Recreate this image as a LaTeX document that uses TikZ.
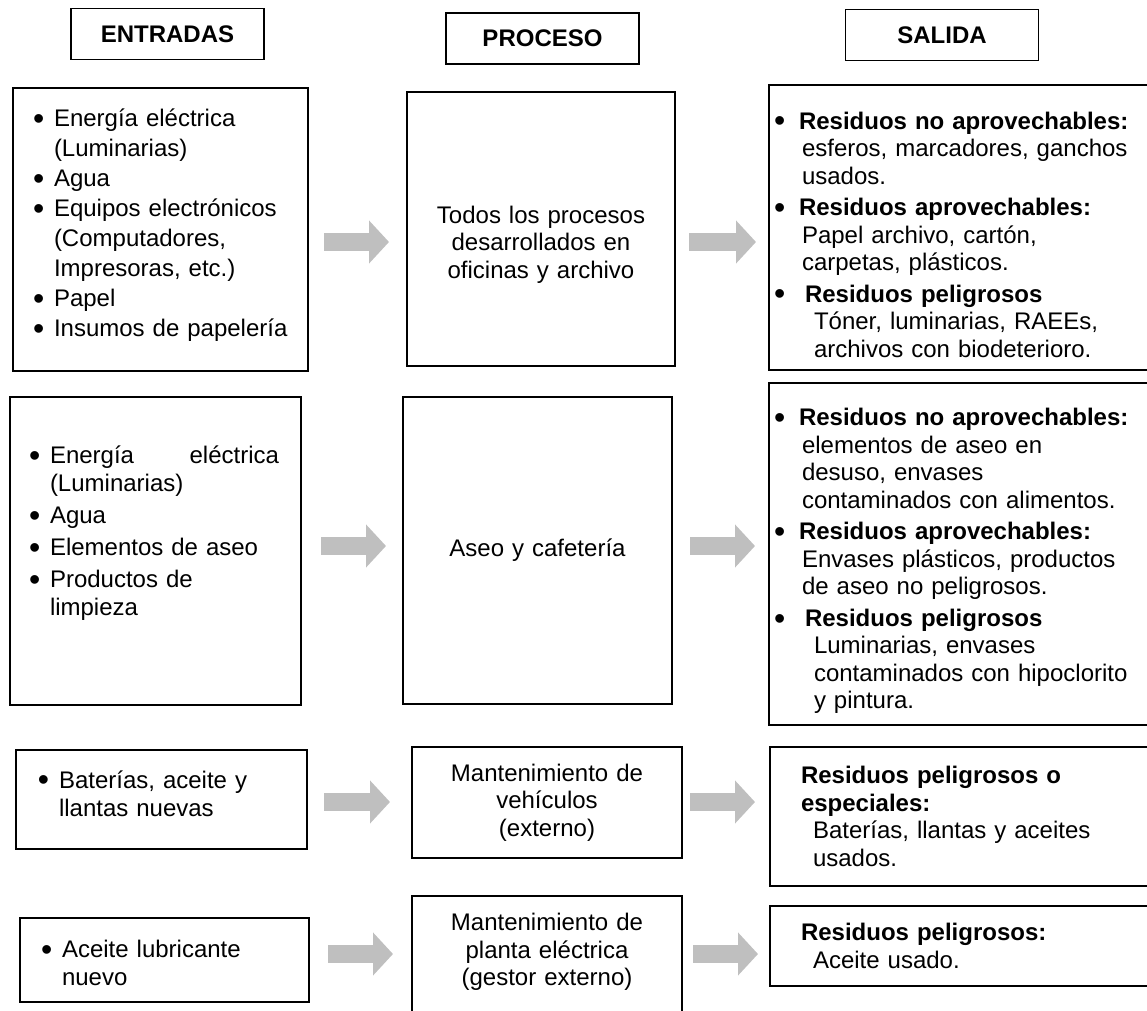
\documentclass[tikz,border=0pt]{standalone}
\usepackage{fontspec}
\setmainfont{Liberation Sans}
\usetikzlibrary{arrows.meta}
\definecolor{grisflecha}{RGB}{191,191,191}
\newlength{\sangria}
\setlength{\sangria}{10.5pt}
\newcommand{\bolita}{\raisebox{-1.4pt}{\fontsize{16pt}{16pt}\selectfont•}}
\newcommand{\punto}{\par\noindent\makebox[\sangria][l]{\bolita}}
\newcommand{\sigue}{\\\hspace*{\sangria}}
\newcommand{\vineta}[2][12.5pt]{\par\noindent\makebox[#1][l]{\bolita}\textbf{#2}}
\newcommand{\renglon}[2][14pt]{\\\hspace*{#1}#2}
\newcommand{\fondo}[1]{\rule[-#1]{0pt}{#1}}
\tikzset{
  caja/.style={draw, line width=1pt, inner ysep=0pt},
  titulo/.style={draw, line width=0.75pt, font=\fontsize{12pt}{14pt}\selectfont\bfseries, minimum width=96.5pt, minimum height=25.5pt},
  lista/.style={caja, align=left, font=\fontsize{12pt}{15pt}\selectfont},
  centro/.style={caja, align=center, font=\fontsize{12pt}{13.75pt}\selectfont},
  salida/.style={caja, align=left, inner xsep=2.5pt, text width=195pt, font=\fontsize{12pt}{13.75pt}\selectfont, execute at begin node=\setlength{\parskip}{2pt}},
  flecha/.style={draw=grisflecha, line width=9pt, -{Triangle[length=10pt,width=21pt]}}
}

\begin{document}
\begin{tikzpicture}[x=0.5pt, y=-0.5pt]

	\useasboundingbox (0,0) rectangle (1147,1011);
	\clip (0,0) rectangle (1147,1011);

	% encabezados
	\node[titulo] (tent) at (167.5,34) {ENTRADAS};
	\node[titulo] (tpro) at (542.5,38.5) {PROCESO};
	\node[titulo] (tsal) at (942,35) {SALIDA};

	% oficinas y archivo
	\node[lista, inner xsep=10pt, text width=127.5pt, minimum height=141.5pt] (ent1) at (160.5,229.5) {%
		\punto Energía eléctrica\sigue(Luminarias)
		\punto Agua
		\punto Equipos electrónicos\sigue(Computadores,\sigue Impresoras, etc.)
		\punto Papel
		\punto Insumos de papelería\fondo{12.5pt}};
	\node[centro, text width=120pt, minimum width=134pt, minimum height=137pt] (pro1) at (541,229) {%
		\rule{0pt}{24pt}Todos los procesos\\desarrollados en\\oficinas y archivo};
	\node[salida, minimum height=142.5pt] (sal1) at (969,227.5) {%
		\vineta{Residuos no aprovechables:}\renglon{esferos, marcadores, ganchos}\renglon{usados.}
		\vineta{Residuos aprovechables:}\renglon{Papel archivo, cartón,}\renglon{carpetas, plásticos.}
		\vineta[15.5pt]{Residuos peligrosos}\renglon[20pt]{Tóner, luminarias, RAEEs,}\renglon[20pt]{archivos con biodeterioro.}};

	% aseo y cafeteria
	\node[lista, font=\fontsize{12pt}{14pt}\selectfont, execute at begin node=\setlength{\parskip}{2pt}, inner xsep=9.5pt, text width=126.5pt, minimum height=154pt] (ent2) at (155.5,551) {%
		\punto\makebox[114.5pt][s]{Energía\hfill eléctrica}\sigue(Luminarias)
		\punto Agua
		\punto Elementos de aseo
		\punto Productos de\sigue limpieza\fondo{27.5pt}};
	\node[centro, text width=120pt, minimum width=134.5pt, minimum height=153.5pt] (pro2) at (537.5,550.5) {Aseo y cafetería};
	\node[salida, minimum height=171pt] (sal2) at (969,554) {%
		\vineta{Residuos no aprovechables:}\renglon{elementos de aseo en}\renglon{desuso, envases}\renglon{contaminados con alimentos.}
		\vineta{Residuos aprovechables:}\renglon{Envases plásticos, productos}\renglon{de aseo no peligrosos.}
		\vineta[15.5pt]{Residuos peligrosos}\renglon[20pt]{Luminarias, envases}\renglon[20pt]{contaminados con hipoclorito}\renglon[20pt]{y pintura.}};

	% vehiculos
	\node[lista, font=\fontsize{12pt}{14pt}\selectfont, inner xsep=11pt, text width=123.5pt, minimum height=49.5pt] (ent3) at (161.5,799.5) {%
		\punto Baterías, aceite y\sigue llantas nuevas\fondo{11.5pt}};
	\node[centro, text width=120pt, minimum width=135pt, minimum height=55.5pt] (pro3) at (547,802.5) {Mantenimiento de\\vehículos\\(externo)};
	\node[salida, inner xsep=15.5pt, text width=169pt, minimum height=69.5pt] (sal3) at (970,816.5) {%
		\textbf{Residuos peligrosos o}\\\textbf{especiales:}\renglon[6pt]{Baterías, llantas y aceites}\renglon[6pt]{usados.}};

	% planta electrica
	\node[lista, font=\fontsize{12pt}{14pt}\selectfont, inner xsep=10.5pt, text width=123.5pt, minimum height=42pt] (ent4) at (164.5,960) {%
		\punto Aceite lubricante\sigue nuevo\fondo{2.5pt}};
	\node[centro, text width=120pt, minimum width=135pt, minimum height=72pt] (pro4) at (547,968) {%
		Mantenimiento de\\planta eléctrica\\(gestor externo)\fondo{18.5pt}};
	\node[salida, inner xsep=15.5pt, text width=169pt, minimum height=40pt] (sal4) at (970,946) {%
		\textbf{Residuos peligrosos:}\renglon[6pt]{Aceite usado.}};

	% flechas
	\coordinate (f1) at (0,242);
	\coordinate (f2) at (0,546);
	\coordinate (f3) at (0,802);
	\coordinate (f4) at (0,954);
	\draw[flecha, shorten <=7.5pt, shorten >=8.5pt] (ent1.east |- f1) -- (pro1.west |- f1);
	\draw[flecha, shorten <=6.5pt, shorten >=6pt] (pro1.east |- f1) -- (sal1.west |- f1);
	\draw[flecha, shorten <=9.5pt, shorten >=8pt] (ent2.east |- f2) -- (pro2.west |- f2);
	\draw[flecha, shorten <=8.5pt, shorten >=6.5pt] (pro2.east |- f2) -- (sal2.west |- f2);
	\draw[flecha, shorten <=8pt, shorten >=10.5pt] (ent3.east |- f3) -- (pro3.west |- f3);
	\draw[flecha, shorten <=3.5pt, shorten >=7pt] (pro3.east |- f3) -- (sal3.west |- f3);
	\draw[flecha, shorten <=9pt, shorten >=9pt] (ent4.east |- f4) -- (pro4.west |- f4);
	\draw[flecha, shorten <=5pt, shorten >=5.5pt] (pro4.east |- f4) -- (sal4.west |- f4);

\end{tikzpicture}
\end{document}
